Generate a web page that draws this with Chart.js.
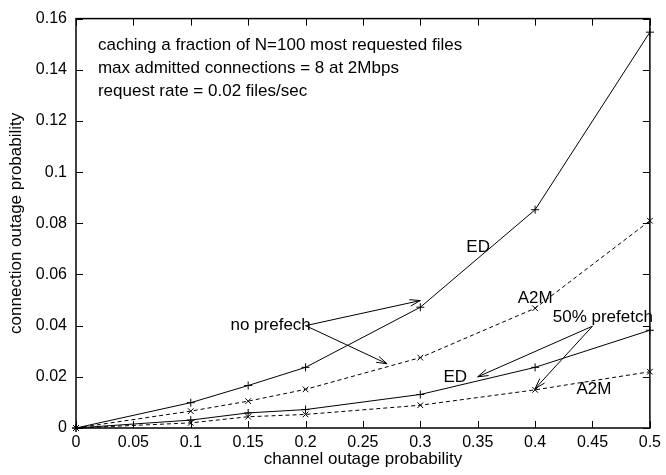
<!DOCTYPE html>
<html>
<head>
<meta charset="utf-8">
<script src="https://cdn.jsdelivr.net/npm/chart.js@4"></script>
<style>
  html, body { margin: 0; padding: 0; background: #fff; }
  canvas { display: block; }
</style>
</head>
<body>
<canvas id="outage-chart" width="666" height="475"></canvas>
<script>
const channelOutage = [0, 0.1, 0.15, 0.2, 0.3, 0.4, 0.5];
const edNoPrefetch = [0, 0.0099, 0.0166, 0.0237, 0.0472, 0.0853, 0.1547];
const a2mNoPrefetch = [0, 0.0066, 0.0105, 0.0151, 0.0275, 0.0468, 0.081];
const ed50Prefetch = [0, 0.0031, 0.0059, 0.0072, 0.0131, 0.0237, 0.0382];
const a2m50Prefetch = [0, 0.002, 0.0044, 0.0053, 0.0089, 0.0149, 0.022];

const infoLines = [
    "caching a fraction of N=100 most requested files",
    "max admitted connections = 8 at 2Mbps",
    "request rate = 0.02 files/sec"
];

// labels: [text, x, y] in data units (centre of text)
const labels = [
    ["ED", 0.3504, 0.0707],
    ["A2M", 0.4, 0.0506],
    ["no prefech", 0.1696, 0.0402],
    ["50% prefetch", 0.459, 0.0433],
    ["ED", 0.3304, 0.0197],
    ["A2M", 0.4513, 0.0151]
];

// arrows: [fromX, fromY, toX, toY] in data units
const arrows = [
    [0.2, 0.04, 0.3, 0.0498],
    [0.2, 0.04, 0.271, 0.0251],
    [0.45, 0.0398, 0.35, 0.02],
    [0.45, 0.0398, 0.4, 0.0154]
];

const FONT = "Liberation Sans, Arial, Helvetica, sans-serif";

function series(values, style, dashed) {
    return {
        data: channelOutage.map((x, i) => ({ x: x, y: values[i] })),
        borderColor: "#000",
        backgroundColor: "#000",
        borderWidth: 1,
        borderDash: dashed ? [4, 3] : [],
        pointStyle: style,
        pointRadius: 4,
        pointBorderWidth: 1,
        pointBorderColor: "#000",
        tension: 0,
        clip: false
    };
}

function fmt(v) {
    return String(+v.toFixed(4));
}

const decorations = {
    id: "decorations",
    afterDraw(chart) {
        const ctx = chart.ctx;
        const a = chart.chartArea;
        const xs = chart.scales.x, ys = chart.scales.y;
        ctx.save();
        ctx.strokeStyle = "#000";
        ctx.lineWidth = 1.5;
        ctx.setLineDash([]);
        ctx.strokeRect(a.left, a.top, a.right - a.left, a.bottom - a.top);

        // inward ticks on all four sides
        ctx.lineWidth = 1;
        const len = 7;
        ctx.beginPath();
        xs.ticks.forEach(t => {
            const px = Math.round(xs.getPixelForValue(t.value)) + 0.5;
            ctx.moveTo(px, a.bottom); ctx.lineTo(px, a.bottom - len);
            ctx.moveTo(px, a.top); ctx.lineTo(px, a.top + len);
        });
        ys.ticks.forEach(t => {
            const py = Math.round(ys.getPixelForValue(t.value)) + 0.5;
            ctx.moveTo(a.left, py); ctx.lineTo(a.left + len, py);
            ctx.moveTo(a.right, py); ctx.lineTo(a.right - len, py);
        });
        ctx.stroke();

        // arrows
        arrows.forEach(([x0, y0, x1, y1]) => {
            const p0x = xs.getPixelForValue(x0), p0y = ys.getPixelForValue(y0);
            const p1x = xs.getPixelForValue(x1), p1y = ys.getPixelForValue(y1);
            const ang = Math.atan2(p1y - p0y, p1x - p0x);
            const hl = 11, hw = 0.3;
            ctx.beginPath();
            ctx.moveTo(p0x, p0y);
            ctx.lineTo(p1x, p1y);
            ctx.moveTo(p1x - hl * Math.cos(ang - hw), p1y - hl * Math.sin(ang - hw));
            ctx.lineTo(p1x, p1y);
            ctx.lineTo(p1x - hl * Math.cos(ang + hw), p1y - hl * Math.sin(ang + hw));
            ctx.stroke();
        });

        // text
        ctx.fillStyle = "#000";
        ctx.font = "17px " + FONT;
        ctx.textBaseline = "middle";
        ctx.textAlign = "left";
        const infoY = [0.1496, 0.1407, 0.1314];
        infoLines.forEach((s, i) => {
            ctx.fillText(s, xs.getPixelForValue(0.0191), ys.getPixelForValue(infoY[i]));
        });
        ctx.textAlign = "center";
        labels.forEach(([s, x, y]) => {
            ctx.fillText(s, xs.getPixelForValue(x), ys.getPixelForValue(y));
        });
        ctx.restore();
    }
};

new Chart(document.getElementById("outage-chart"), {
    type: "line",
    data: {
        datasets: [
            series(edNoPrefetch, "cross", false),
            series(a2mNoPrefetch, "crossRot", true),
            series(ed50Prefetch, "cross", false),
            series(a2m50Prefetch, "crossRot", true)
        ]
    },
    options: {
        responsive: false,
        animation: false,
        layout: { padding: { top: 14, right: 15, left: 0, bottom: 0 } },
        plugins: {
            legend: { display: false },
            tooltip: { enabled: false }
        },
        scales: {
            x: {
                type: "linear",
                min: 0,
                max: 0.5,
                grid: { display: false, drawTicks: false },
                border: { display: false },
                ticks: {
                    stepSize: 0.05,
                    padding: 5,
                    maxRotation: 0,
                    color: "#000",
                    font: { family: FONT, size: 16 },
                    callback: fmt
                },
                title: {
                    display: true,
                    text: "channel outage probability",
                    color: "#000",
                    font: { family: FONT, size: 17 },
                    padding: 5
                },
                afterFit(scale) { scale.height = 47; }
            },
            y: {
                min: 0,
                max: 0.16,
                grid: { display: false, drawTicks: false },
                border: { display: false },
                ticks: {
                    stepSize: 0.02,
                    padding: 9,
                    color: "#000",
                    font: { family: FONT, size: 16 },
                    callback: fmt
                },
                title: {
                    display: true,
                    text: "connection outage probability",
                    color: "#000",
                    font: { family: FONT, size: 17 },
                    padding: 6
                },
                afterFit(scale) { scale.width = 76; }
            }
        }
    },
    plugins: [decorations]
});
</script>
</body>
</html>
